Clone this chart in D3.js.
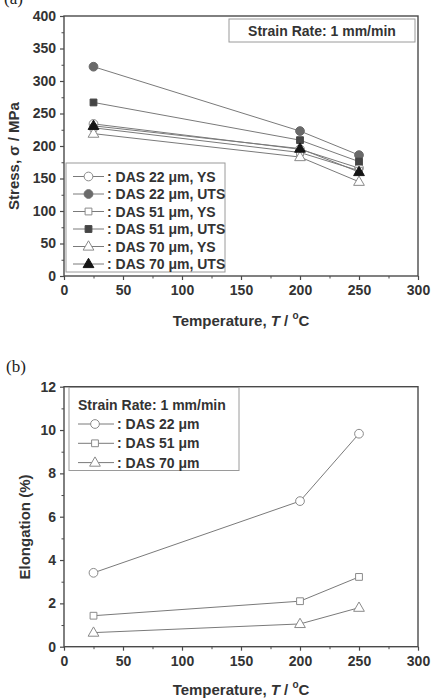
<!DOCTYPE html>
<html><head><meta charset="utf-8">
<script src="https://cdn.jsdelivr.net/npm/d3@7"></script>
<style>body{margin:0;background:#fff}svg{display:block}</style>
</head><body>
<svg id="c" width="437" height="699"></svg>
<script>
// ---- data ----
const temps = [25, 200, 250];
const stressSeries = [
  {name: "DAS 22 \u03bcm, YS",  shape: "circle",   filled: false, values: [234, 195, 166]},
  {name: "DAS 22 \u03bcm, UTS", shape: "circle",   filled: true,  values: [322, 223, 186]},
  {name: "DAS 51 \u03bcm, YS",  shape: "square",   filled: false, values: [228, 190, 162]},
  {name: "DAS 51 \u03bcm, UTS", shape: "square",   filled: true,  values: [267, 209, 176]},
  {name: "DAS 70 \u03bcm, YS",  shape: "triangle", filled: false, values: [219, 183, 145]},
  {name: "DAS 70 \u03bcm, UTS", shape: "triangle", filled: true,  values: [231, 196, 160]}
];
const elongSeries = [
  {name: "DAS 22 \u03bcm", shape: "circle",   filled: false, values: [3.41, 6.72, 9.83]},
  {name: "DAS 51 \u03bcm", shape: "square",   filled: false, values: [1.43, 2.10, 3.22]},
  {name: "DAS 70 \u03bcm", shape: "triangle", filled: false, values: [0.65, 1.05, 1.80]}
];
const xTicks = [0, 50, 100, 150, 200, 250, 300];
const stressTicks = [0, 50, 100, 150, 200, 250, 300, 350, 400];
const elongTicks = [0, 2, 4, 6, 8, 10, 12];
const strainLabel = "Strain Rate: 1 mm/min";

// ---- drawing ----
const svg = d3.select("#c");
const FONT = "'Liberation Sans', Arial, sans-serif";
const AX = "#4a4a4a";
const LINE = "#7a7a7a";
const TXT = "#333";
const fillColor = {circle: "#6a6a6a", square: "#454545", triangle: "#151515"};

function sym(shape) {
  const t = shape === "circle" ? d3.symbolCircle : shape === "square" ? d3.symbolSquare : d3.symbolTriangle;
  const size = shape === "circle" ? 60 : shape === "square" ? 46 : 50;
  return d3.symbol().type(t).size(size)();
}
function drawMarker(g, s, x, y) {
  g.append("path").attr("d", sym(s.shape))
    .attr("transform", `translate(${x},${y + (s.shape === "triangle" ? 0.5 : 0)})`)
    .attr("fill", s.filled ? fillColor[s.shape] : "#fff")
    .attr("stroke", s.filled ? fillColor[s.shape] : "#8a8a8a")
    .attr("stroke-width", 1);
}

function panel(cfg) {
  const {x0, x1, yTop, yBot, yDomain, yTicks, yMinor, series, ylabel, ylabelX, ylabelY, xTitleY} = cfg;
  const x = d3.scaleLinear().domain([0, 300]).range([x0, x1]);
  const y = d3.scaleLinear().domain(yDomain).range([yBot, yTop]);
  const g = svg.append("g");

  g.append("rect").attr("x", x0).attr("y", yTop).attr("width", x1 - x0).attr("height", yBot - yTop)
    .attr("fill", "none").attr("stroke", AX).attr("stroke-width", 1.4);

  const xa = g.append("g").attr("transform", `translate(0,${yBot})`)
    .call(d3.axisBottom(x).tickValues(xTicks).tickSize(4).tickPadding(5).tickFormat(d3.format("d")));
  xa.select(".domain").remove();
  xa.selectAll("line").attr("stroke", AX).attr("stroke-width", 1.2);
  xa.selectAll("text").attr("font-family", FONT).attr("font-weight", "bold").attr("font-size", 14).attr("fill", TXT);
  const xm = g.append("g").attr("transform", `translate(0,${yBot})`)
    .call(d3.axisBottom(x).tickValues(d3.range(25, 300, 50)).tickSize(2.5).tickFormat(""));
  xm.select(".domain").remove();
  xm.selectAll("line").attr("stroke", AX);

  const ya = g.append("g").attr("transform", `translate(${x0},0)`)
    .call(d3.axisLeft(y).tickValues(yTicks).tickSize(4).tickPadding(4).tickFormat(d3.format("d")));
  ya.select(".domain").remove();
  ya.selectAll("line").attr("stroke", AX).attr("stroke-width", 1.2);
  ya.selectAll("text").attr("font-family", FONT).attr("font-weight", "bold").attr("font-size", 14).attr("fill", TXT);
  const ym = g.append("g").attr("transform", `translate(${x0},0)`)
    .call(d3.axisLeft(y).tickValues(yMinor).tickSize(2.5).tickFormat(""));
  ym.select(".domain").remove();
  ym.selectAll("line").attr("stroke", AX);

  const xt = g.append("text").attr("x", (x0 + x1) / 2).attr("y", xTitleY).attr("text-anchor", "middle")
    .attr("font-family", FONT).attr("font-weight", "bold").attr("font-size", 15).attr("fill", TXT);
  xt.append("tspan").text("Temperature, ");
  xt.append("tspan").attr("font-style", "italic").text("T");
  xt.append("tspan").text(" / ");
  xt.append("tspan").attr("font-size", 10).attr("dy", -7).text("o");
  xt.append("tspan").attr("dy", 7).text("C");

  g.append("text").attr("transform", `translate(${ylabelX},${ylabelY}) rotate(-90)`)
    .attr("text-anchor", "middle").attr("font-family", FONT).attr("font-weight", "bold")
    .attr("font-size", 15).attr("fill", TXT).text(ylabel);

  const line = d3.line().x((d, i) => x(temps[i])).y(d => y(d));
  series.forEach(s => {
    g.append("path").attr("d", line(s.values)).attr("fill", "none")
      .attr("stroke", LINE).attr("stroke-width", 1);
  });
  series.forEach(s => {
    s.values.forEach((v, i) => drawMarker(g, s, x(temps[i]), y(v)));
  });
  return {g, x, y};
}

// Panel (a)
svg.append("text").attr("x", 4).attr("y", 4).attr("font-family", "'Liberation Serif', serif")
  .attr("font-size", 17).attr("fill", "#222").text("(a)");
const pa = panel({x0: 64, x1: 418, yTop: 16, yBot: 276, yDomain: [0, 400], yTicks: stressTicks,
  yMinor: d3.range(25, 400, 50), series: stressSeries, ylabel: "Stress, \u03c3 / MPa",
  ylabelX: 19, ylabelY: 156, xTitleY: 326});

pa.g.append("rect").attr("x", 229).attr("y", 19).attr("width", 186).attr("height", 23)
  .attr("fill", "#fff").attr("stroke", "#9a9a9a").attr("stroke-width", 1);
pa.g.append("text").attr("x", 322).attr("y", 35.5).attr("text-anchor", "middle")
  .attr("font-family", FONT).attr("font-weight", "bold").attr("font-size", 14).attr("fill", TXT)
  .text(strainLabel);

pa.g.append("rect").attr("x", 66).attr("y", 163).attr("width", 159).attr("height", 109)
  .attr("fill", "#fff").attr("stroke", "#9a9a9a").attr("stroke-width", 1);
stressSeries.forEach((s, i) => {
  const yy = 176.5 + i * 17.5;
  pa.g.append("line").attr("x1", 73).attr("x2", 104).attr("y1", yy).attr("y2", yy)
    .attr("stroke", LINE).attr("stroke-width", 1);
  drawMarker(pa.g, s, 88.5, yy);
  pa.g.append("text").attr("x", 107).attr("y", yy + 5).attr("font-family", FONT).attr("font-weight", "bold")
    .attr("font-size", 14).attr("fill", TXT).text(": " + s.name);
});

// Panel (b)
svg.append("text").attr("x", 6).attr("y", 372).attr("font-family", "'Liberation Serif', serif")
  .attr("font-size", 17).attr("fill", "#222").text("(b)");
const pb = panel({x0: 64, x1: 418, yTop: 386.7, yBot: 646.7, yDomain: [0, 12], yTicks: elongTicks,
  yMinor: d3.range(1, 12, 2), series: elongSeries, ylabel: "Elongation (%)",
  ylabelX: 30, ylabelY: 527, xTitleY: 695});

pb.g.append("rect").attr("x", 69).attr("y", 387.5).attr("width", 170).attr("height", 83)
  .attr("fill", "#fff").attr("stroke", "#9a9a9a").attr("stroke-width", 1);
pb.g.append("text").attr("x", 78).attr("y", 410).attr("font-family", FONT).attr("font-weight", "bold")
  .attr("font-size", 14).attr("fill", TXT).text(strainLabel);
elongSeries.forEach((s, i) => {
  const yy = 424 + i * 19.3;
  pb.g.append("line").attr("x1", 78).attr("x2", 114).attr("y1", yy).attr("y2", yy)
    .attr("stroke", LINE).attr("stroke-width", 1);
  drawMarker(pb.g, s, 95, yy);
  pb.g.append("text").attr("x", 117).attr("y", yy + 5).attr("font-family", FONT).attr("font-weight", "bold")
    .attr("font-size", 14).attr("fill", TXT).text(": " + s.name);
});
</script>
</body></html>
